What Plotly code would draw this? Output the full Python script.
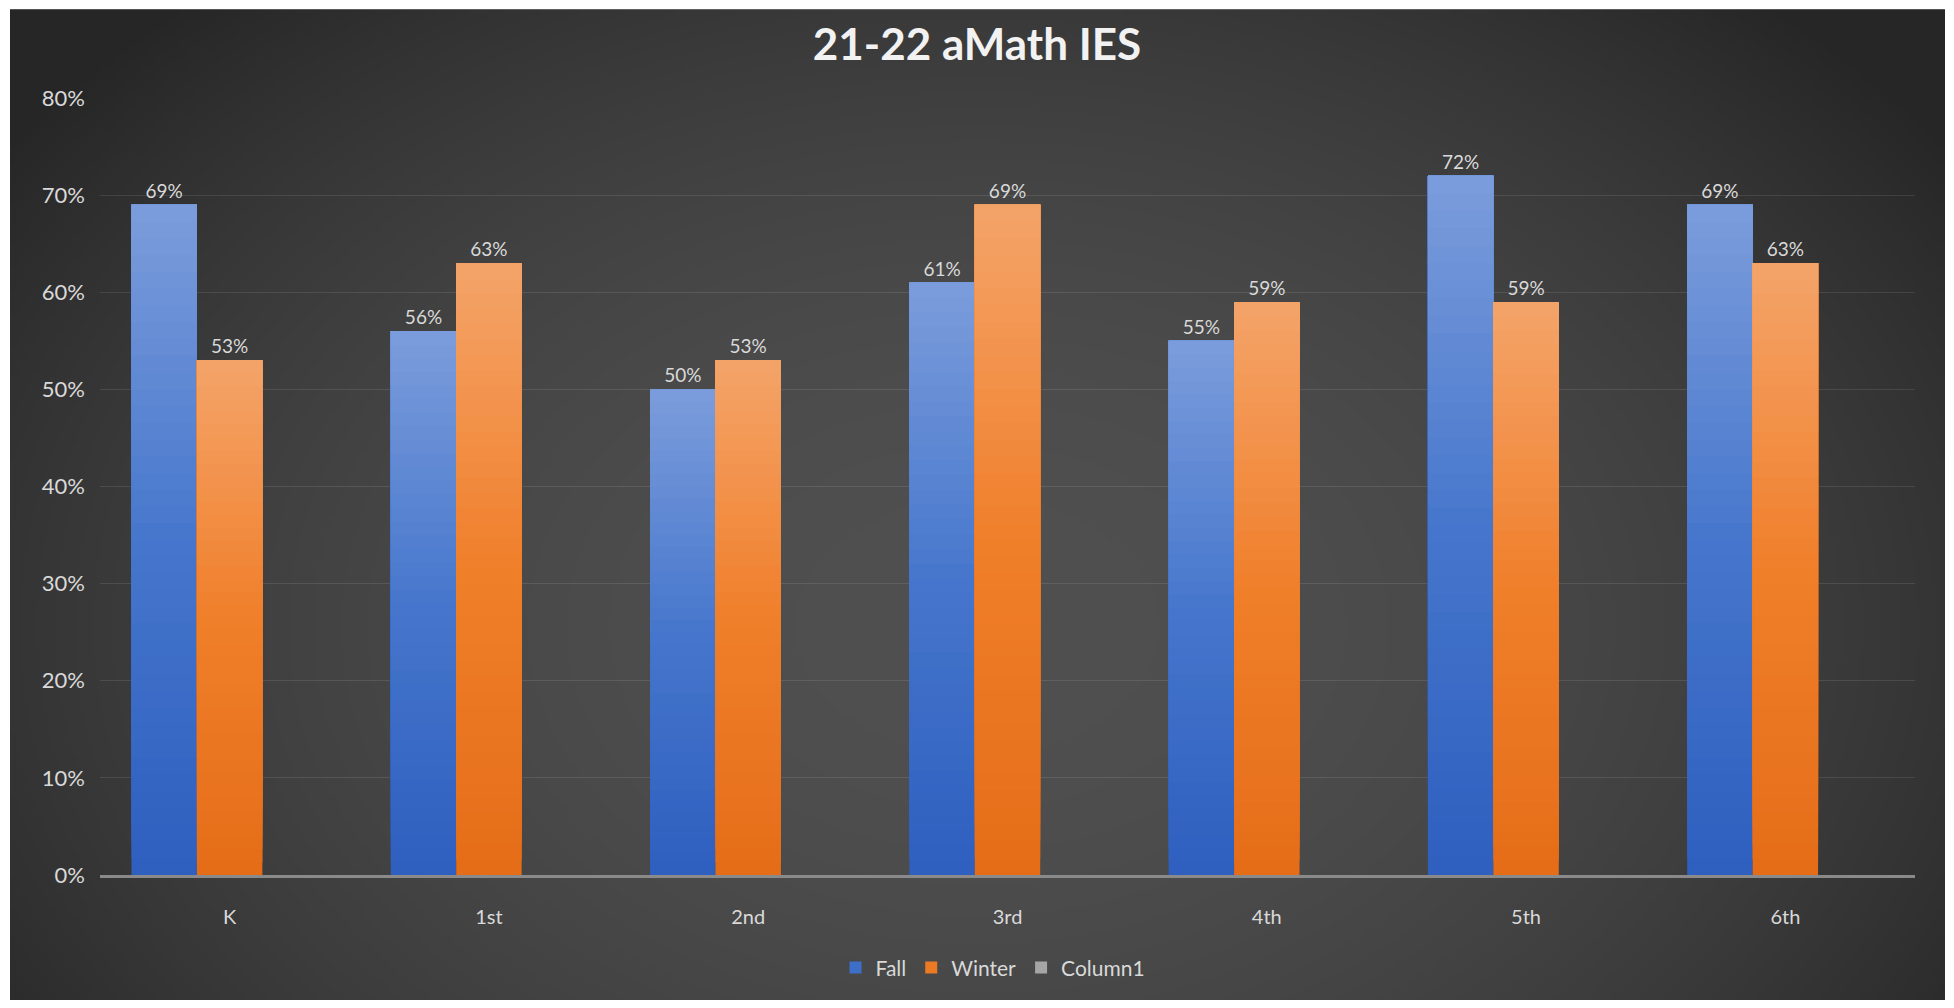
import base64, struct, zlib
import numpy as np
import plotly.graph_objects as go

# ---------------- data ----------------
categories = ["K", "1st", "2nd", "3rd", "4th", "5th", "6th"]
fall = [0.69, 0.56, 0.50, 0.61, 0.55, 0.72, 0.69]
winter = [0.53, 0.63, 0.53, 0.69, 0.59, 0.59, 0.63]
column1 = [None] * 7
y_ticks = [0, 0.1, 0.2, 0.3, 0.4, 0.5, 0.6, 0.7, 0.8]
title_text = "21-22 aMath IES"

# ---------------- geometry (figure coords; page body adds 8px margin) ----------------
W, H = 1938, 992
L, R, T, B = 92, 31, 90, 123
plot_w = W - L - R
plot_h = H - T - B
panel_x0, panel_x1, panel_y0, panel_y1 = 2, 1937, 1, 1000


# ---------------- radial background image ----------------
def make_png(arr):
    h, w, _ = arr.shape
    raw = b"".join(b"\x00" + arr[i].tobytes() for i in range(h))

    def chunk(t, d):
        return struct.pack(">I", len(d)) + t + d + struct.pack(">I", zlib.crc32(t + d) & 0xFFFFFFFF)

    ihdr = struct.pack(">IIBBBBB", w, h, 8, 2, 0, 0, 0)
    return b"\x89PNG\r\n\x1a\n" + chunk(b"IHDR", ihdr) + chunk(b"IDAT", zlib.compress(raw, 9)) + chunk(b"IEND", b"")


iw, ih = 480, 248
xx, yy = np.meshgrid(np.linspace(0, 1, iw), np.linspace(0, 1, ih))
d2 = ((xx - 0.5) / 0.62) ** 2 + ((yy - 0.62) / 0.85) ** 2
f = np.clip(1 - d2, 0, 1)
center_c, edge_c = 80, 38
val = (edge_c + (center_c - edge_c) * f).astype(np.uint8)
img = np.stack([val, val, val], axis=-1)
bg_uri = "data:image/png;base64," + base64.b64encode(make_png(img)).decode()


# ---------------- gradient helpers ----------------
def hex2rgb(h):
    h = h.lstrip("#")
    return np.array([int(h[i:i + 2], 16) for i in (0, 2, 4)], dtype=float)


def grad_color(stops, t):
    for (p0, c0), (p1, c1) in zip(stops[:-1], stops[1:]):
        if p0 <= t <= p1:
            u = (t - p0) / (p1 - p0) if p1 > p0 else 0
            c = hex2rgb(c0) * (1 - u) + hex2rgb(c1) * u
            return "rgb(%d,%d,%d)" % tuple(np.round(c))
    return stops[-1][1]


blue_stops = [(0.0, "#2e5fbf"), (0.5, "#4676cc"), (1.0, "#7c9ddc")]
orange_stops = [(0.0, "#e56d18"), (0.5, "#f07f2a"), (1.0, "#f4a46a")]

fig = go.Figure()
N = 40
label_font = dict(family="Lato, sans-serif", size=19, color="#d9d9d9")

for name, vals, stops in [("Fall", fall, blue_stops), ("Winter", winter, orange_stops)]:
    for k in range(N):
        t = (k + 0.5) / N
        top = k == N - 1
        # each layer runs from its start fraction up to the full value, so upper
        # layers paint over lower ones without seams
        fig.add_trace(go.Bar(
            x=categories,
            y=[v * (N - k) / N for v in vals],
            base=[v * k / N for v in vals],
            name=name,
            legendgroup=name,
            showlegend=(k == N // 3),
            offsetgroup=name,
            marker=dict(color=grad_color(stops, t), line=dict(width=0)),
            text=["{:.0%}".format(v) for v in vals] if top else None,
            textposition="outside" if top else "none",
            outsidetextfont=label_font,
            cliponaxis=False,
            hoverinfo="skip",
        ))

fig.add_trace(go.Bar(
    x=categories, y=column1, name="Column1", offsetgroup="Column1",
    marker=dict(color="#a5a5a5", line=dict(width=0)),
))

fig.update_layout(
    width=W, height=H,
    margin=dict(l=L, r=R, t=T, b=B, pad=0),
    paper_bgcolor="white",
    plot_bgcolor="rgba(0,0,0,0)",
    barmode="group",
    bargap=0.243,
    bargroupgap=0.0,
    title=dict(
        text="<b>" + title_text + "</b>",
        x=969 / W, xref="container", xanchor="center",
        y=1 - 37 / H, yref="container", yanchor="middle",
        font=dict(family="Lato, sans-serif", size=44, color="#f2f2f2"),
    ),
    legend=dict(
        orientation="h",
        x=(985 - L) / plot_w, xanchor="center",
        y=(H - B - 962) / plot_h, yanchor="middle",
        font=dict(family="Lato, sans-serif", size=21, color="#d9d9d9"),
        bgcolor="rgba(0,0,0,0)",
        itemclick=False,
        traceorder="normal",
    ),
    showlegend=True,
    images=[dict(
        source=bg_uri, xref="paper", yref="paper",
        x=(panel_x0 - L) / plot_w, y=(H - B - panel_y0) / plot_h,
        sizex=(panel_x1 - panel_x0) / plot_w, sizey=(panel_y1 - panel_y0) / plot_h,
        xanchor="left", yanchor="top", sizing="stretch", layer="below",
    )],
)

fig.update_xaxes(
    type="category",
    showgrid=False,
    showline=True, linecolor="#8a8a8a", linewidth=3,
    ticks="", ticklabelstandoff=22,
    tickfont=dict(family="Lato, sans-serif", size=20, color="#d9d9d9"),
)
fig.update_yaxes(
    range=[0, 0.8],
    tickvals=y_ticks,
    tickformat=".0%",
    showgrid=True, gridcolor="rgba(255,255,255,0.10)", gridwidth=1,
    zeroline=False, showline=False,
    ticks="", ticklabelstandoff=14,
    tickfont=dict(family="Lato, sans-serif", size=22, color="#d9d9d9"),
)

fig.write_html("out.html")
